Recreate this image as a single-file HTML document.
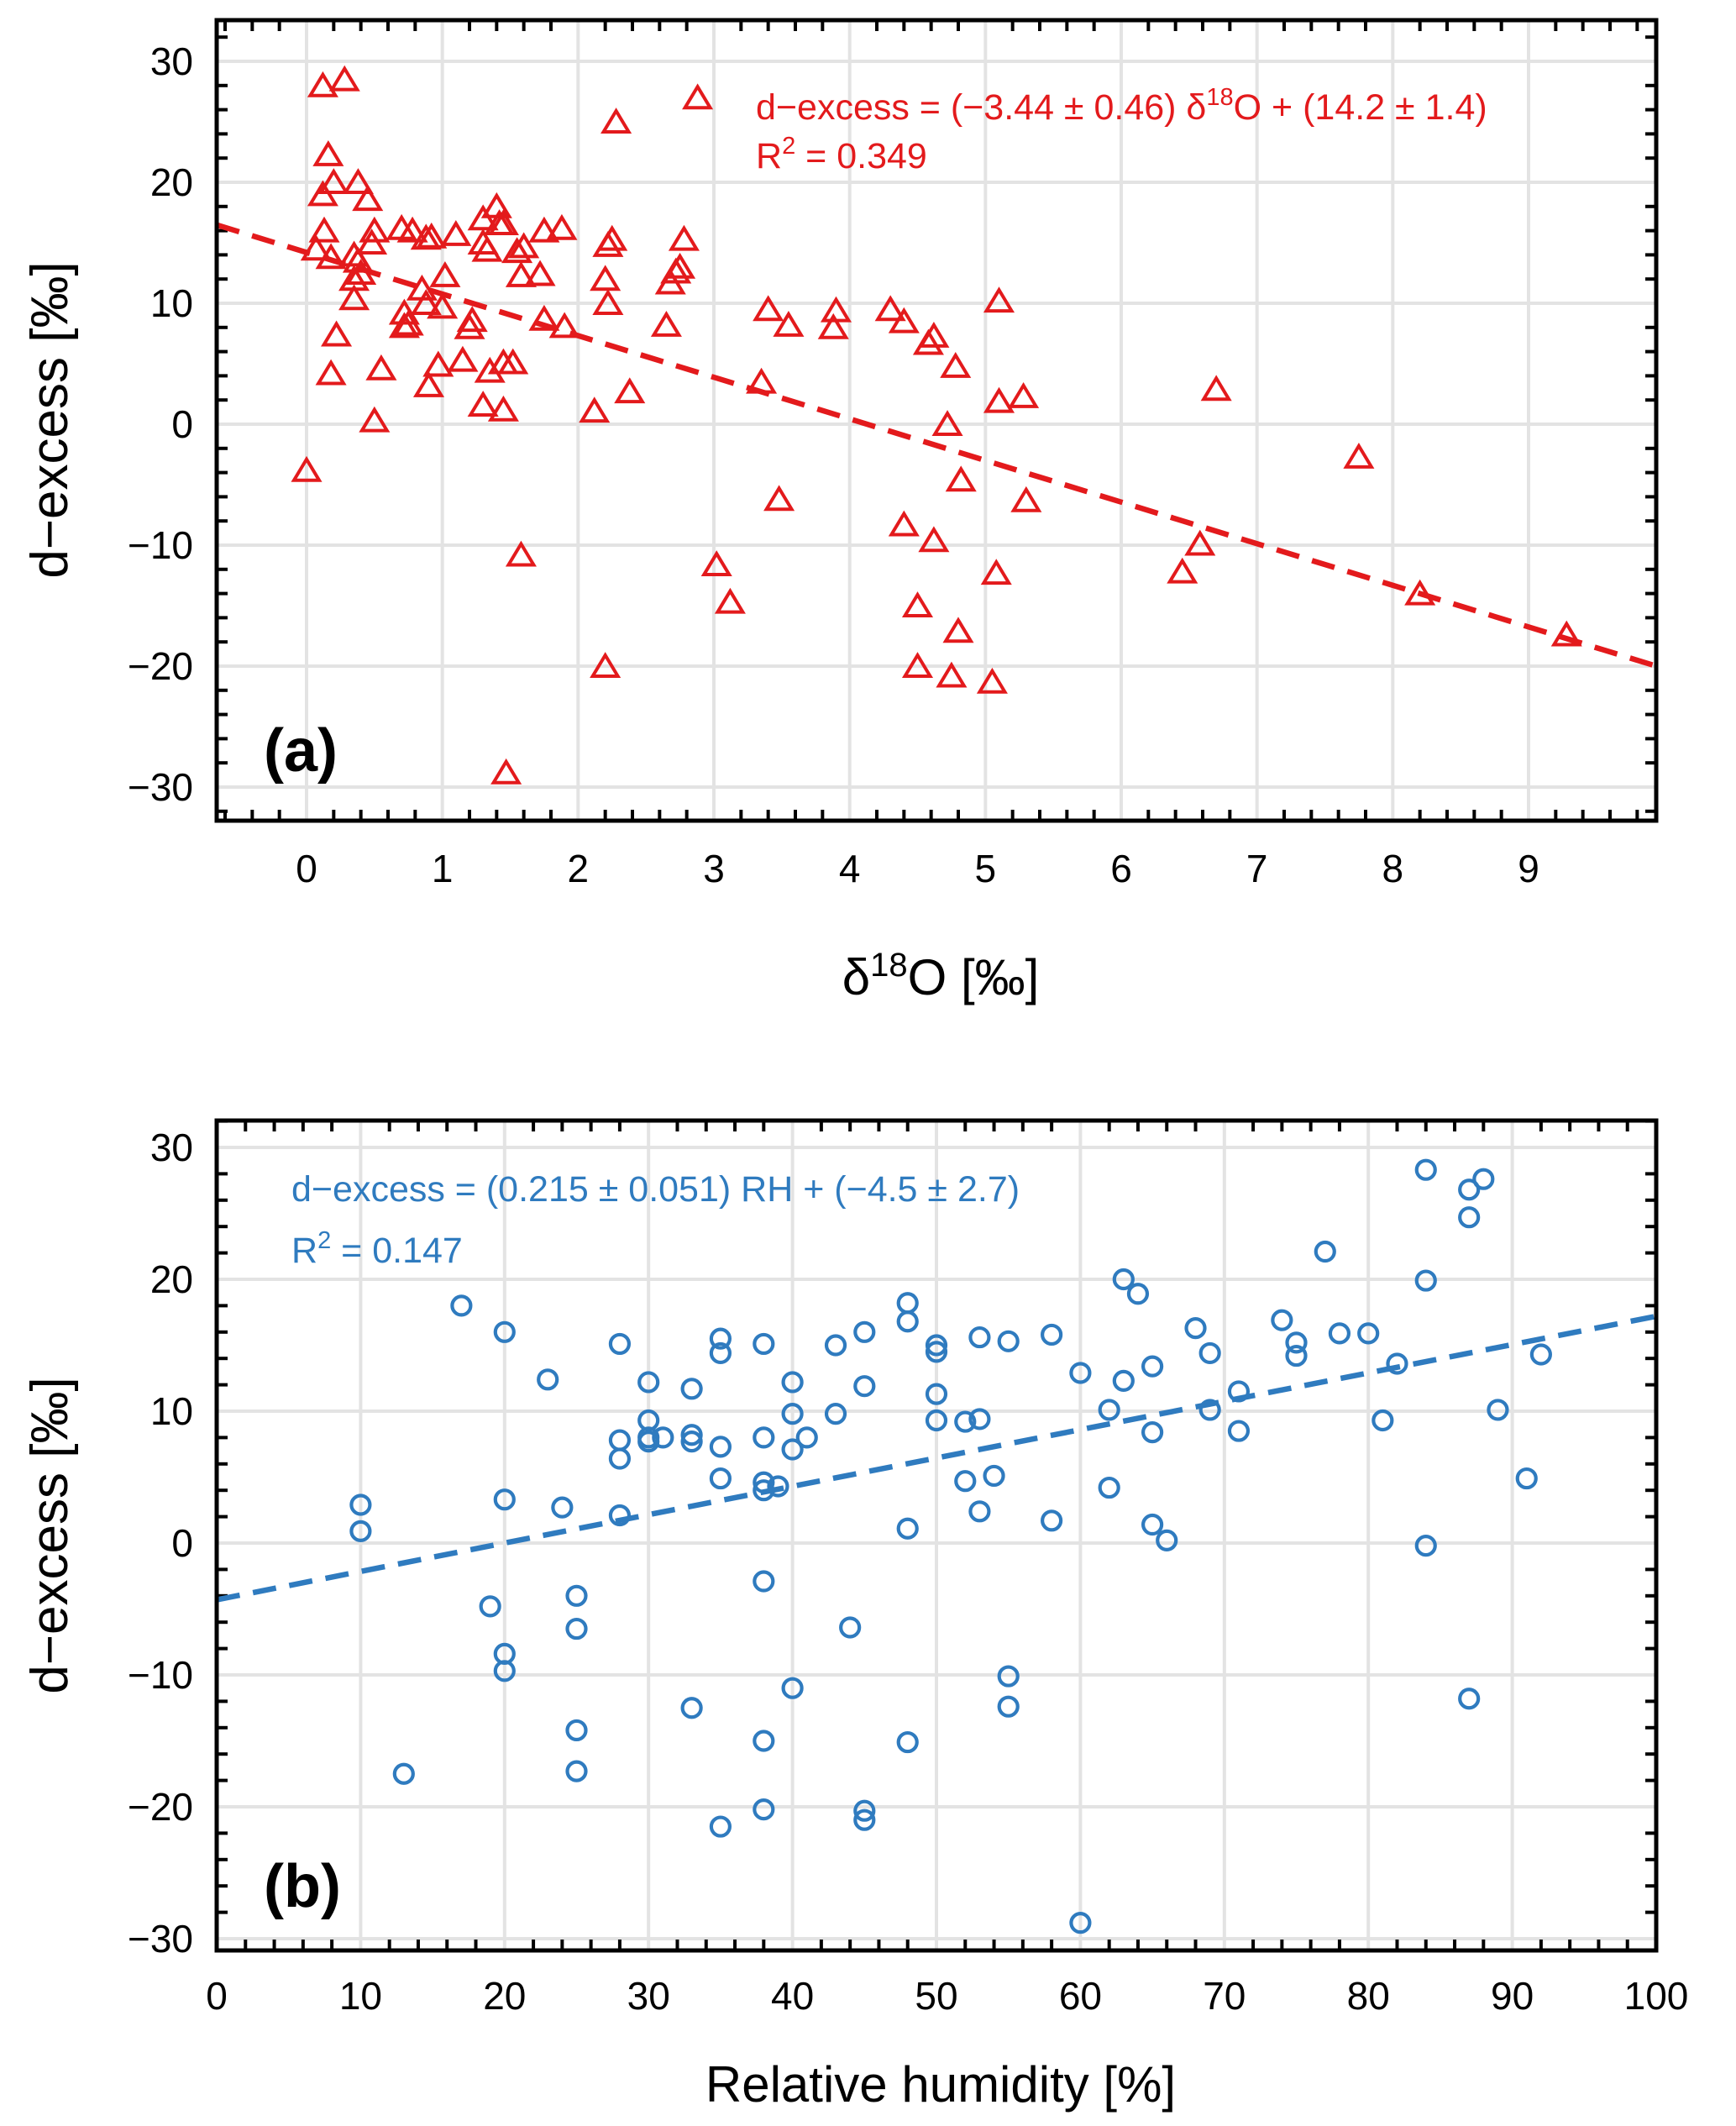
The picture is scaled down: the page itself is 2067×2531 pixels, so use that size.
<!DOCTYPE html>
<html><head><meta charset="utf-8"><style>
html,body{margin:0;padding:0;background:#fff;}
svg{display:block;font-family:"Liberation Sans",Arial,sans-serif;}
</style></head><body>
<svg id="fig" width="2067" height="2531" viewBox="0 0 2067 2531"></svg>
<script>
// Panel (a) data: delta18O vs d-excess
const aX = [0.0,0.07,0.12,0.28,0.13,0.16,0.12,0.2,0.18,0.18,0.22,0.38,0.45,0.35,0.38,0.35,0.4,0.35,0.48,0.5,0.55,0.5,0.7,0.78,0.72,0.72,0.75,0.88,0.92,0.85,0.88,1.0,0.9,0.97,1.02,1.1,1.15,1.2,1.22,1.3,1.3,1.33,1.4,1.42,1.45,1.55,1.6,1.35,1.3,1.45,1.45,1.52,1.58,1.72,1.75,1.75,1.88,1.9,1.58,1.47,2.12,2.2,2.22,2.22,2.25,2.28,2.38,2.2,2.65,2.68,2.72,2.75,2.78,2.88,3.02,3.12,3.35,3.4,3.48,3.55,3.88,3.9,4.3,4.4,4.4,4.5,4.5,4.58,4.62,4.62,4.72,4.75,4.8,4.78,4.82,5.05,5.08,5.1,5.1,5.28,5.3,6.45,6.58,6.7,7.75,8.2,9.28];
const aY = [-3.8,14.5,28,28.5,16,22.3,19,20,13.8,4.2,7.4,20,18.6,14,13.5,12,12.5,10.4,15,16,4.6,0.3,16.2,16,9.2,8.1,8.3,15.4,15.5,11.2,10,9.7,3.2,4.9,12.3,15.7,5.3,8,8.6,17,15,14.4,18,16.6,16.6,14.3,14.7,4.4,1.6,1.2,5.1,5.1,12.3,12.4,8.7,16,16.2,8.1,-10.8,-28.8,1.1,12,10,14.8,15.3,25,2.7,-20,8.2,11.7,12.6,13,15.3,27,-11.6,-14.7,3.5,9.5,-6.2,8.2,8,9.4,9.5,8.5,-8.3,-15,-20,6.7,-9.6,7.3,0,-20.8,-17.1,4.8,-4.6,-21.3,-12.3,10.2,1.9,2.3,-6.3,-12.2,-9.9,2.9,-2.7,-14,-17.4];
const aFit = [-3.44, 14.2];
const aXTicks = [0,1,2,3,4,5,6,7,8,9];
const aYTicks = [-30,-20,-10,0,10,20,30];
// Panel (b) data: RH vs d-excess
const bX = [10,10,13,17,19,20,20,20,20,23,24,25,25,25,25,28,28,28,28,30,30,30,30,31,33,33,33,33,35,35,35,35,35,38,38,38,38,38,38,38,39,40,40,40,40,41,43,43,44,45,45,45,45,48,48,48,48,50,50,50,50,52,52,53,53,53,54,55,55,55,58,58,60,60,62,62,63,63,64,65,65,65,66,68,69,69,71,71,74,75,75,77,78,80,81,82,84,84,84,87,87,87,88,89,91,92];
const bY = [2.9,0.9,-17.5,18,-4.8,16,3.3,-8.4,-9.7,12.4,2.7,-4,-6.5,-14.2,-17.3,15.1,7.8,6.4,2.1,12.2,9.3,8,7.7,8,11.7,8.2,7.7,-12.5,15.5,14.4,7.3,4.9,-21.5,15.1,8,4.6,4,-2.9,-15,-20.2,4.3,12.2,9.8,7.1,-11,8,15,9.8,-6.4,16,11.9,-20.3,-21,18.2,16.8,1.1,-15.1,15,14.5,11.3,9.3,9.2,4.7,15.6,9.4,2.4,5.1,15.3,-10.1,-12.4,15.8,1.7,12.9,-28.8,10.1,4.2,20,12.3,18.9,13.4,8.4,1.4,0.2,16.3,14.4,10.1,11.5,8.5,16.9,15.2,14.2,22.1,15.9,15.9,9.3,13.6,28.3,19.9,-0.2,26.8,24.7,-11.8,27.6,10.1,4.9,14.3];
const bFit = [0.215, -4.3];
const bXTicks = [0,10,20,30,40,50,60,70,80,90,100];
const bYTicks = [-30,-20,-10,0,10,20,30];

const NS = "http://www.w3.org/2000/svg";
const svg = document.getElementById('fig');
function mk(tag, attrs, parent) {
  const e = document.createElementNS(NS, tag);
  for (const k in attrs) e.setAttribute(k, attrs[k]);
  (parent || svg).appendChild(e);
  return e;
}

function panel(cfg) {
  const g = mk('g', {});
  
  
  const L = cfg.left, R = cfg.right, T = cfg.top, B = cfg.bottom;
  const sx = v => cfg.px0 + (v - cfg.x0) * (cfg.px1 - cfg.px0) / (cfg.x1 - cfg.x0);
  const sy = v => cfg.py0 + (v - cfg.y0) * (cfg.py1 - cfg.py0) / (cfg.y1 - cfg.y0);
  const xmin = cfg.x0 + (L - cfg.px0) * (cfg.x1 - cfg.x0) / (cfg.px1 - cfg.px0);
  const xmax = cfg.x0 + (R - cfg.px0) * (cfg.x1 - cfg.x0) / (cfg.px1 - cfg.px0);
  const ymin = cfg.y0 + (B - cfg.py0) * (cfg.y1 - cfg.y0) / (cfg.py1 - cfg.py0);
  const ymax = cfg.y0 + (T - cfg.py0) * (cfg.y1 - cfg.y0) / (cfg.py1 - cfg.py0);
  cfg.xticks.forEach(v => { const x = sx(v); if (x > L + 2 && x < R - 2) {
    const l = mk('line', {x1:x, x2:x, y1:T, y2:B, stroke:'#e3e3e3', 'stroke-width':4}, g);
      }});
  cfg.yticks.forEach(v => { const y = sy(v);
    const l = mk('line', {x1:L, x2:R, y1:y, y2:y, stroke:'#e3e3e3', 'stroke-width':4}, g);
      });
  for (let v = Math.ceil(xmin / cfg.xminor) * cfg.xminor; v <= xmax + 1e-9; v += cfg.xminor) {
    const x = sx(v);
    const major = Math.abs(v / cfg.xmajor - Math.round(v / cfg.xmajor)) < 1e-6;
    if (!major) { mk('line', {x1:x, x2:x, y1:B, y2:B - 13, stroke:'#000', 'stroke-width':4}, g);
      mk('line', {x1:x, x2:x, y1:T, y2:T + 13, stroke:'#000', 'stroke-width':4}, g); }
  }
  for (let v = Math.ceil(ymin / 2) * 2; v <= ymax + 1e-9; v += 2) {
    if (v % 10 === 0) continue;
    const y = sy(v);
    mk('line', {x1:L, x2:L + 13, y1:y, y2:y, stroke:'#000', 'stroke-width':4}, g);
    mk('line', {x1:R, x2:R - 13, y1:y, y2:y, stroke:'#000', 'stroke-width':4}, g);
  }
  cfg.xticks.forEach(v => { const t = mk('text', {x:sx(v), y:cfg.xlabY, 'font-size':46, 'text-anchor':'middle'}, g);
    t.textContent = v;   });
  cfg.yticks.forEach(v => { const t = mk('text', {x:230, y:sy(v) + 16, 'font-size':46, 'text-anchor':'end'}, g);
    t.textContent = v < 0 ? '\u2212' + Math.abs(v) : v;   });
  const fx0 = xmin, fx1 = xmax;
  const fit = mk('line', {x1:sx(fx0), y1:sy(cfg.fit[0] * fx0 + cfg.fit[1]), x2:sx(fx1), y2:sy(cfg.fit[0] * fx1 + cfg.fit[1]),
    stroke:cfg.color, 'stroke-width':6.5, 'stroke-dasharray':'28 16'}, g);
   
  cfg.xs.forEach((xv, i) => {
    const x = sx(xv), y = sy(cfg.ys[i]);
    let m;
    if (cfg.marker === 'tri') {
      m = mk('polygon', {points:`${x},${y - 13} ${x + 15},${y + 12} ${x - 15},${y + 12}`, fill:'none', stroke:cfg.color, 'stroke-width':4}, g);
    } else {
      m = mk('circle', {cx:x, cy:y, r:11, fill:'none', stroke:cfg.color, 'stroke-width':4.2}, g);
    }
    
    
  });
  const f = mk('rect', {x:L, y:T, width:R - L, height:B - T, fill:'none', stroke:'#000', 'stroke-width':5}, g);
   
  return g;
}

panel({name:'panel-a', left:258, right:1972, top:24, bottom:977,
  x0:0, x1:9, px0:365, px1:1820, y0:30, y1:-30, py0:73, py1:937,
  xticks:aXTicks, yticks:aYTicks, xminor:0.2, xmajor:1, xlabY:1050,
  xs:aX, ys:aY, fit:aFit, color:'#e31a1c', marker:'tri'});
panel({name:'panel-b', left:258, right:1972, top:1334, bottom:2322,
  x0:0, x1:100, px0:258, px1:1972, y0:30, y1:-30, py0:1366, py1:2308,
  xticks:bXTicks, yticks:bYTicks, xminor:2, xmajor:10, xlabY:2392,
  xs:bX, ys:bY, fit:bFit, color:'#2f7bbf', marker:'circ'});
</script>
<svg style="position:absolute;left:0;top:0" width="2067" height="2531">
  <g font-family="Liberation Sans, Arial, sans-serif">
    <text x="80" y="500" font-size="62" text-anchor="middle" transform="rotate(-90 80 500)">d−excess [‰]</text>
    <text x="1120" y="1184" font-size="60" text-anchor="middle">δ<tspan dy="-22" font-size="40">18</tspan><tspan dy="22">O [‰]</tspan></text>
    <text x="80" y="1828" font-size="62" text-anchor="middle" transform="rotate(-90 80 1828)">d−excess [‰]</text>
    <text x="1120" y="2502" font-size="60" text-anchor="middle">Relative humidity [%]</text>
    <text x="900" y="142" font-size="43" fill="#e31a1c">d−excess = (−3.44 ± 0.46) δ<tspan dy="-17" font-size="29">18</tspan><tspan dy="17">O + (14.2 ± 1.4)</tspan></text>
    <text x="900" y="200" font-size="43" fill="#e31a1c">R<tspan dy="-17" font-size="29">2</tspan><tspan dy="17"> = 0.349</tspan></text>
    <text x="347" y="1430" font-size="43" fill="#2f7bbf">d−excess = (0.215 ± 0.051) RH + (−4.5 ± 2.7)</text>
    <text x="347" y="1503" font-size="43" fill="#2f7bbf">R<tspan dy="-17" font-size="29">2</tspan><tspan dy="17"> = 0.147</tspan></text>
    <text x="314" y="918" font-size="72" font-weight="bold">(a)</text>
    <text x="314" y="2270" font-size="72" font-weight="bold">(b)</text>
  </g>
</svg>
</body></html>
